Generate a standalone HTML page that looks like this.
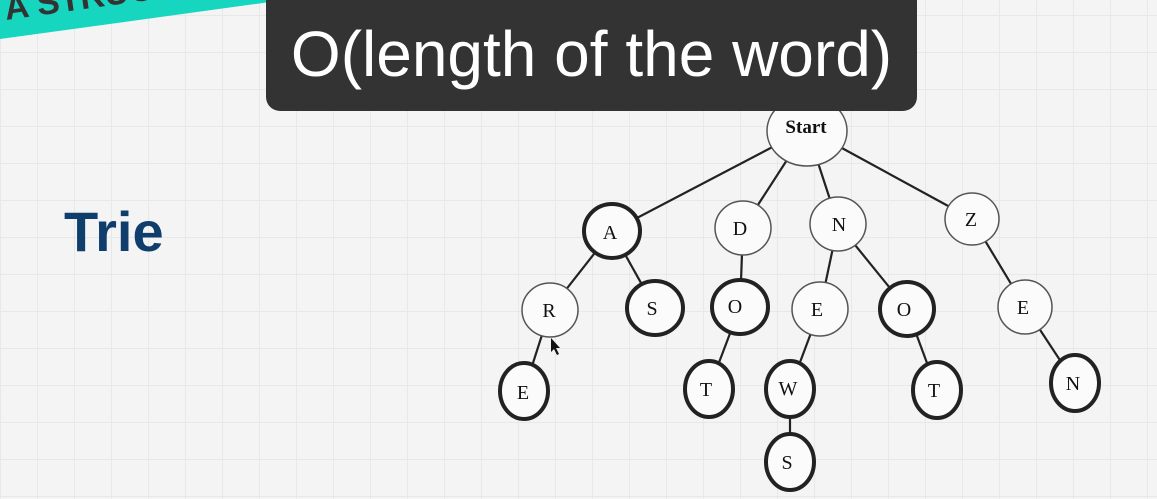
<!DOCTYPE html>
<html><head><meta charset="utf-8"><style>
html,body{margin:0;padding:0}
body{width:1157px;height:499px;overflow:hidden;position:relative;background:#f4f4f4;
background-image:linear-gradient(#e8e8e8 1px,transparent 1px),linear-gradient(90deg,#e8e8e8 1px,transparent 1px);
background-size:37px 37px;background-position:0 15px;font-family:"Liberation Sans",sans-serif}
.tip{position:absolute;left:266px;top:-14px;width:651px;height:125px;background:#333;border-radius:14px;color:#fff;font-size:64px;text-align:center;line-height:125px;padding-top:6px;box-sizing:border-box;font-family:"Liberation Sans",sans-serif}
.trie{position:absolute;left:64px;top:199px;font-size:56px;font-weight:bold;color:#0f3e6c}
</style></head><body>
<svg width="1157" height="499" style="position:absolute;left:0;top:0">
<polygon points="0,0 300,0 270,2 0,39" fill="#17d6bf"/>
<polygon points="270,0 300,0 296,6 272,4" fill="#1f3b3a"/>
<text x="6" y="20" font-family="Liberation Sans" font-weight="bold" font-size="34" fill="#333" transform="rotate(-8 6 20)">A STRUCT</text>
<g stroke="#222" stroke-width="2.2" fill="none">
<line x1="807" y1="129" x2="612" y2="231"/><line x1="807" y1="129" x2="743" y2="228"/>
<line x1="807" y1="129" x2="838" y2="224"/><line x1="807" y1="129" x2="972" y2="219"/>
<line x1="612" y1="231" x2="550" y2="310"/><line x1="612" y1="231" x2="655" y2="308"/>
<line x1="743" y1="228" x2="740" y2="307"/><line x1="838" y1="224" x2="820" y2="309"/>
<line x1="838" y1="224" x2="907" y2="309"/><line x1="972" y1="219" x2="1025" y2="307"/>
<line x1="550" y1="310" x2="524" y2="391"/><line x1="740" y1="307" x2="709" y2="389"/>
<line x1="820" y1="309" x2="790" y2="389"/><line x1="907" y1="309" x2="937" y2="390"/>
<line x1="1025" y1="307" x2="1075" y2="383"/><line x1="790" y1="389" x2="790" y2="462"/>
</g>
<g fill="#fbfbfb" stroke="#222">
<ellipse cx="807" cy="131" rx="40" ry="35" stroke-width="1.5" stroke="#555"/>
<ellipse cx="612" cy="231" rx="28" ry="27" stroke-width="4"/>
<ellipse cx="743" cy="228" rx="28" ry="27" stroke-width="1.5" stroke="#555"/>
<ellipse cx="838" cy="224" rx="28" ry="27" stroke-width="1.5" stroke="#555"/>
<ellipse cx="972" cy="219" rx="27" ry="26" stroke-width="1.5" stroke="#555"/>
<ellipse cx="550" cy="310" rx="28" ry="27" stroke-width="1.5" stroke="#555"/>
<ellipse cx="655" cy="308" rx="28" ry="27" stroke-width="4"/>
<ellipse cx="740" cy="307" rx="28" ry="27" stroke-width="4"/>
<ellipse cx="820" cy="309" rx="28" ry="27" stroke-width="1.5" stroke="#555"/>
<ellipse cx="907" cy="309" rx="27" ry="27" stroke-width="4"/>
<ellipse cx="1025" cy="307" rx="27" ry="27" stroke-width="1.5" stroke="#555"/>
<ellipse cx="524" cy="391" rx="24" ry="28" stroke-width="4"/>
<ellipse cx="709" cy="389" rx="24" ry="28" stroke-width="4"/>
<ellipse cx="790" cy="389" rx="24" ry="28" stroke-width="4"/>
<ellipse cx="937" cy="390" rx="24" ry="28" stroke-width="4"/>
<ellipse cx="1075" cy="383" rx="24" ry="28" stroke-width="4"/>
<ellipse cx="790" cy="462" rx="24" ry="28" stroke-width="4"/>
</g>
<g font-family="Liberation Serif" font-size="20" fill="#111" text-anchor="middle">
<text x="806" y="133" font-size="19" font-weight="bold">Start</text>
<text x="610" y="239">A</text><text x="740" y="235">D</text><text x="839" y="231">N</text>
<text x="971" y="226">Z</text><text x="549" y="317">R</text><text x="652" y="315">S</text>
<text x="735" y="313">O</text><text x="817" y="316">E</text><text x="904" y="316">O</text>
<text x="1023" y="314">E</text><text x="523" y="399">E</text><text x="706" y="396">T</text>
<text x="788" y="395">W</text><text x="934" y="397">T</text><text x="1073" y="390">N</text>
<text x="787" y="469">S</text>
</g>
<polygon points="551,338 551,352 554,349 557,355 559,354 556,348 560,348" fill="#111"/>
</svg>
<div class="tip">O(length of the word)</div>
<div class="trie">Trie</div>
</body></html>
